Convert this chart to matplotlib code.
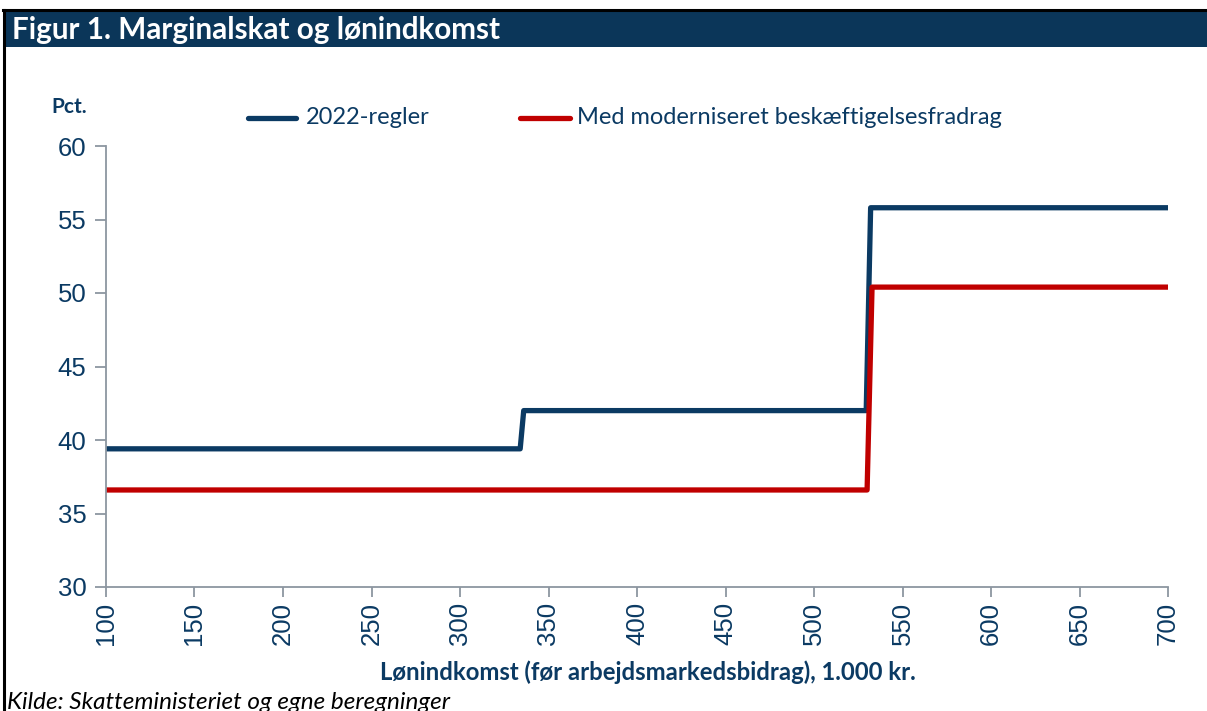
import matplotlib.pyplot as plt
from matplotlib.patches import Rectangle
from matplotlib.lines import Line2D

# Data (income in 1.000 kr., marginal tax in pct.)
income_2022 = [100, 334, 336, 529.5, 532, 700]
rate_2022 = [39.4, 39.4, 42.0, 42.0, 55.8, 55.8]

income_new = [100, 530, 532.8, 700]
rate_new = [36.6, 36.6, 50.4, 50.4]

series_names = ["2022-regler", "Med moderniseret beskæftigelsesfradrag"]
x_ticks = list(range(100, 701, 50))
y_ticks = list(range(30, 61, 5))

navy = "#0b3a63"
red = "#c00000"
bar_col = "#0b3659"
spine_col = "#8c96a0"

W, H = 1207, 711
fig = plt.figure(figsize=(W / 100, H / 100), dpi=100)
fig.patch.set_facecolor("white")

def fx(px):
    return px / W

def fy(py):
    return 1 - py / H

# frame and title bar
fig.add_artist(Rectangle((fx(4), fy(47)), 1, fy(11) - fy(47), transform=fig.transFigure,
                         facecolor=bar_col, edgecolor="none"))
fig.add_artist(Line2D([fx(4), fx(4)], [0, fy(10)], transform=fig.transFigure, color="black", lw=2.2))
fig.add_artist(Line2D([fx(3), 1], [fy(10), fy(10)], transform=fig.transFigure, color="black", lw=2.2))
fig.text(fx(12), fy(30), "Figur 1. Marginalskat og lønindkomst", color="white", fontsize=21.3,
         fontweight="bold", family="Lato", va="center", ha="left")

ax = fig.add_axes([fx(106), fy(587), fx(1168) - fx(106), fy(146) - fy(587)])
ax.plot(income_2022, rate_2022, color=navy, lw=3.8, solid_capstyle="round", solid_joinstyle="round")
ax.plot(income_new, rate_new, color=red, lw=3.8, solid_capstyle="round", solid_joinstyle="round")

ax.set_xlim(100, 700)
ax.set_ylim(30, 60)
ax.set_xticks(x_ticks)
ax.set_yticks(y_ticks)
ax.set_xticklabels([str(v) for v in x_ticks], rotation=90, family="Liberation Sans", fontsize=18.5, color=navy)
ax.set_yticklabels([str(v) for v in y_ticks], family="Liberation Sans", fontsize=18.5, color=navy)
ax.tick_params(axis="x", length=7, width=1.3, color=spine_col, pad=4)
ax.tick_params(axis="y", length=8, width=1.3, color=spine_col, pad=6)
for s in ["top", "right"]:
    ax.spines[s].set_visible(False)
for s in ["left", "bottom"]:
    ax.spines[s].set_color(spine_col)
    ax.spines[s].set_linewidth(1.3)

# legend drawn by hand to match the layout
fig.add_artist(Line2D([fx(248), fx(296)], [fy(118), fy(118)], transform=fig.transFigure,
                      color=navy, lw=3.8, solid_capstyle="round"))
fig.text(fx(306), fy(118), series_names[0], color=navy, fontsize=17, family="Lato", va="center")
fig.add_artist(Line2D([fx(520), fx(570)], [fy(118), fy(118)], transform=fig.transFigure,
                      color=red, lw=3.8, solid_capstyle="round"))
fig.text(fx(577), fy(118), series_names[1], color=navy, fontsize=17, family="Lato", va="center")

fig.text(fx(51), fy(107), "Pct.", color=navy, fontsize=15, fontweight="bold", family="Lato", va="center")
fig.text(fx(648), fy(672), "Lønindkomst (før arbejdsmarkedsbidrag), 1.000 kr.", color=navy, fontsize=17.2,
         fontweight="bold", family="Lato", ha="center", va="center")
fig.text(fx(7), fy(709), "Kilde: Skatteministeriet og egne beregninger", color="black", fontsize=17.5,
         style="italic", family="Lato", ha="left", va="baseline")

fig.savefig("out.png", dpi=100, facecolor="white")
